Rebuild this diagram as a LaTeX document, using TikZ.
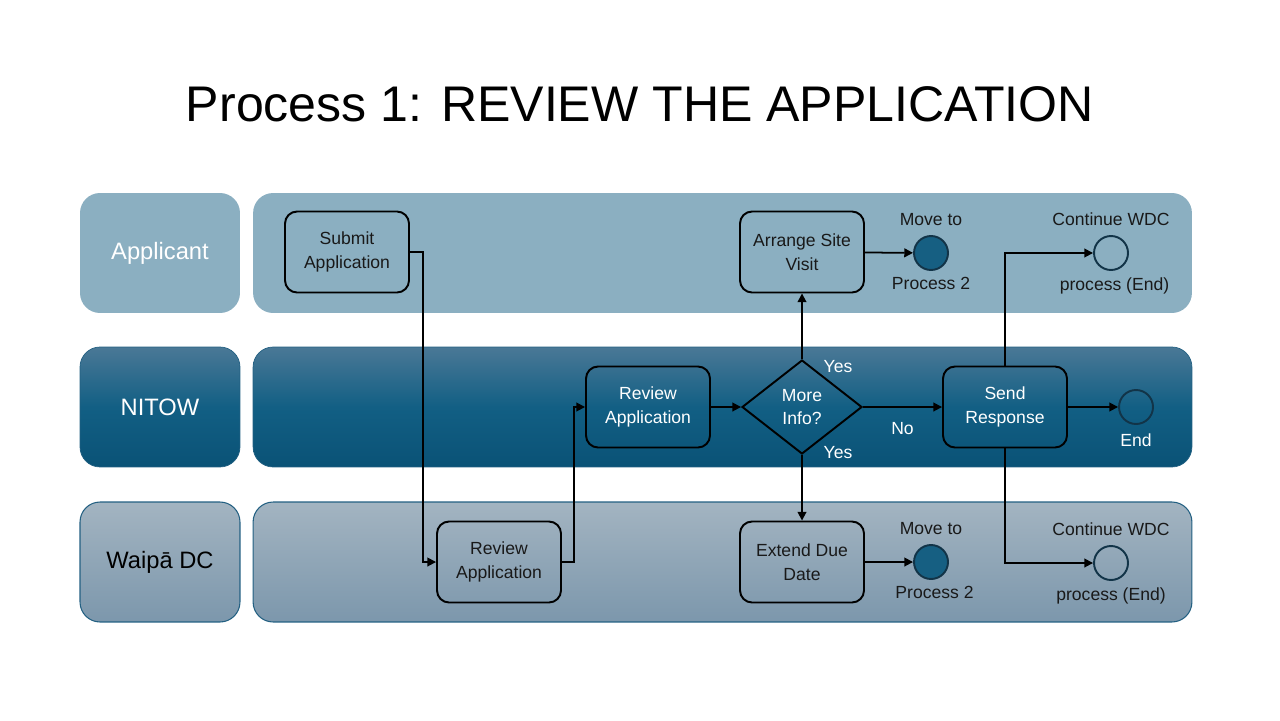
\documentclass[tikz,border=0pt]{standalone}
\usepackage{fontspec}
\setmainfont{Liberation Sans}
\usetikzlibrary{arrows.meta,positioning,shapes.geometric}
\definecolor{applicantcol}{RGB}{139,175,193}
\definecolor{nitowtop}{RGB}{74,120,150}
\definecolor{nitowmid}{RGB}{18,95,132}
\definecolor{nitowbot}{RGB}{10,82,118}
\definecolor{waipatop}{RGB}{163,180,193}
\definecolor{waipabot}{RGB}{124,151,172}
\definecolor{laneedge}{RGB}{35,96,130}
\definecolor{eventcol}{RGB}{22,95,130}
\definecolor{eventedge}{RGB}{18,52,72}
\definecolor{inkcol}{RGB}{25,25,25}

\begin{document}
\begin{tikzpicture}[
    x=0.02cm, y=-0.02cm,
    lanehead/.style={rounded corners=0.4cm, minimum width=3.2cm, minimum height=2.4cm, font=\fontsize{13.5}{16}\selectfont},
    lanebody/.style={rounded corners=0.4cm, minimum width=18.78cm, minimum height=2.4cm},
    box/.style={draw, line width=1.1pt, rounded corners=0.24cm, minimum width=2.48cm, minimum height=1.62cm, align=center, font=\fontsize{10}{13.5}\selectfont},
    decision/.style={draw, diamond, line width=1.1pt, minimum width=2.4cm, minimum height=1.88cm, inner sep=0pt, align=center, font=\fontsize{10}{13.5}\selectfont},
    event/.style={circle, draw=eventedge, line width=1.1pt, minimum size=0.68cm, inner sep=0pt},
    note/.style={inner sep=0pt, font=\fontsize{10}{13}\selectfont},
    arr/.style={-{Triangle[length=5pt,width=5pt]}, line width=1pt},
]
\useasboundingbox (0,0) rectangle (1280,720);

% title
\node (title) at (640,104) {\fontsize{28.5}{34}\selectfont Process 1: REVIEW THE APPLICATION};

% lanes
\node[lanehead, fill=applicantcol, text=white] (applicant) at (160,253) {Applicant};
\node[lanebody, fill=applicantcol] (applicantlane) at (722.5,253) {};
\node[lanehead, top color=nitowtop, bottom color=nitowbot, middle color=nitowmid, draw=laneedge, line width=0.4pt, text=white] (nitow) at (160,407) {NITOW};
\node[lanebody, top color=nitowtop, bottom color=nitowbot, middle color=nitowmid, draw=laneedge, line width=0.4pt] (nitowlane) at (722.5,407) {};
\node[lanehead, top color=waipatop, bottom color=waipabot, draw=laneedge, line width=0.6pt, text=black] (waipa) at (160,562) {Waipā DC};
\node[lanebody, top color=waipatop, bottom color=waipabot, draw=laneedge, line width=0.6pt] (waipalane) at (722.5,562) {};

% applicant lane
\node[box, text=inkcol] (submit) at (347,252) {Submit\\Application};
\node[box, text=inkcol] (site) at (802,252) {Arrange Site\\Visit};
\node[event, fill=eventcol] (move1) at (931,253) {};
\node[note, text=inkcol, above=5pt of move1] (move1top) {Move to};
\node[note, text=inkcol, below=3.5pt of move1] (move1bot) {Process 2};
\node[event] (cont1) at (1111,253) {};
\node[note, text=inkcol, above=5pt of cont1] (cont1top) {Continue WDC};
\node[note, text=inkcol, below=3.5pt of cont1, xshift=2pt] (cont1bot) {process (End)};

% NITOW lane
\node[box, text=white] (revnitow) at (648,407) {Review\\Application};
\node[decision, text=white] (info) at (802,407) {More\\Info?};
\node[box, text=white] (send) at (1005,407) {Send\\Response};
\node[event] (end) at (1136,407) {};
\node[note, text=white, below=5pt of end] (endlbl) {End};
\node[note, text=white] (yesup) at (838,367) {Yes};
\node[note, text=white] (yesdown) at (838,453) {Yes};

% Waipa lane
\node[box, text=inkcol] (revwaipa) at (499,562) {Review\\Application};
\node[box, text=inkcol] (extend) at (802,562) {Extend Due\\Date};
\node[event, fill=eventcol] (move2) at (931,562) {};
\node[note, text=inkcol, above=5pt of move2] (move2top) {Move to};
\node[note, text=inkcol, below=3.5pt of move2, xshift=2pt] (move2bot) {Process 2};
\node[event] (cont2) at (1111,563) {};
\node[note, text=inkcol, above=5pt of cont2] (cont2top) {Continue WDC};
\node[note, text=inkcol, below=3.5pt of cont2] (cont2bot) {process (End)};

% flows
\draw[arr] (submit.east) -- ++(13,0) |- (revwaipa.west);
\draw[arr] (revwaipa.east) -- ++(12,0) |- (revnitow.west);
\draw[arr] (revnitow) -- (info);
\draw[arr] (info.north) -- (site.south);
\draw[arr] (info.south) -- (extend.north);
\draw[arr] (info.east) -- node[note, text=white, below=8pt] (nolbl) {No} (send.west);
\draw[arr] (send) -- (end);
\draw[arr] (send.north) |- (cont1.west);
\draw[arr] (send.south) |- (cont2.west);
\draw[arr] (site) -- (move1);
\draw[arr] (extend) -- (move2);
\end{tikzpicture}
\end{document}
